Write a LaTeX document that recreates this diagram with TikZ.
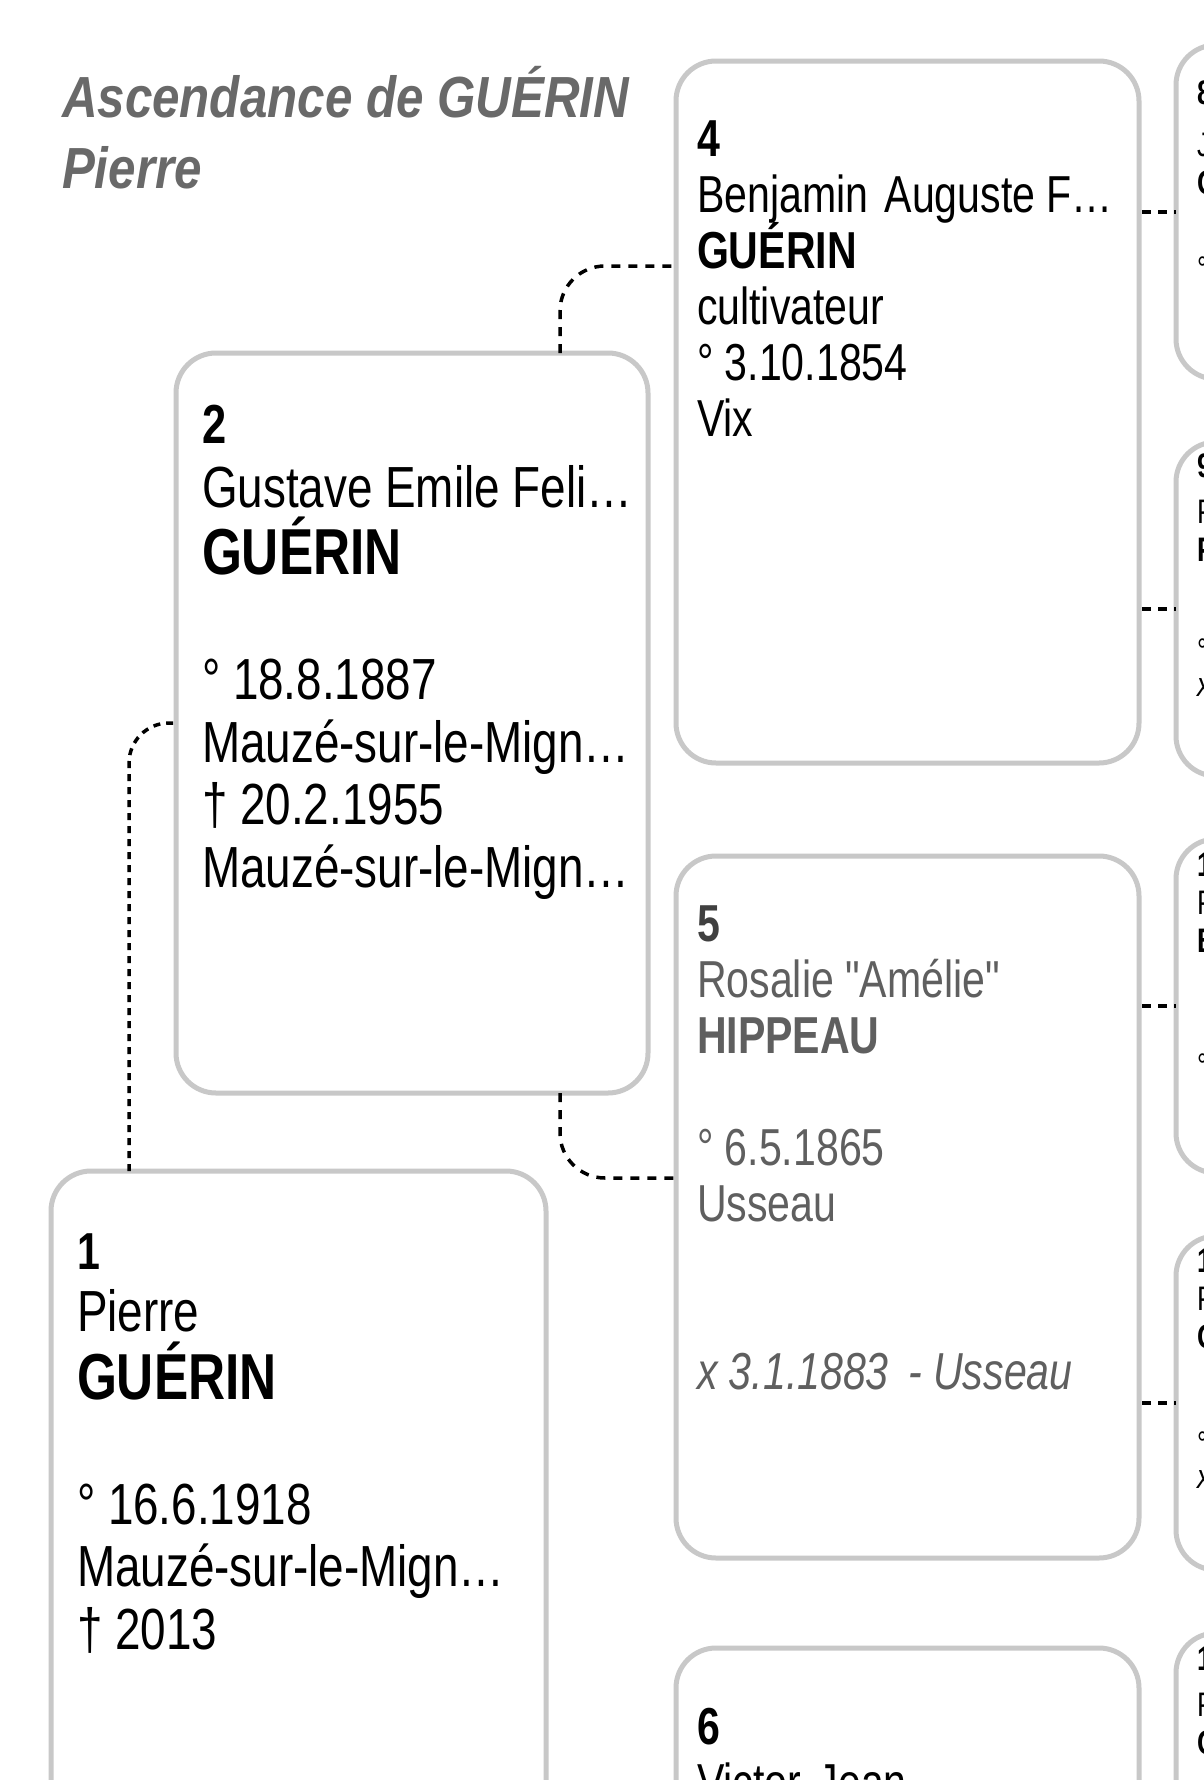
\documentclass[tikz,border=0pt]{standalone}
\usepackage{fontspec}
\setmainfont{Liberation Sans}[FakeStretch=0.79]
\newfontfamily\titlefont{Liberation Sans}[FakeStretch=0.85]
\newfontfamily\rawfont{Liberation Sans}[FakeStretch=0.79]
\definecolor{boxgray}{RGB}{200,200,200}
\definecolor{femgray}{RGB}{95,95,95}
\definecolor{titlegray}{RGB}{105,105,105}
\newcommand\linesat[2]{\vtop{\lineskiplimit=-1000pt\lineskip=0pt\baselineskip=#1pt\halign{##\hfil\cr#2\crcr}}}
\newcommand\fA{\fontsize{58}{62.5}\selectfont}
\newcommand\fB{\fontsize{52}{56}\selectfont}
\newcommand\fC{\fontsize{34}{38}\selectfont}
\newcommand\snA{\fontsize{65}{62.5}\selectfont\bfseries}
\newcommand\numA{\fontsize{55}{60}\selectfont\bfseries}
\newcommand\numB{\fontsize{52}{56}\selectfont\bfseries}
\newcommand\numC{\fontsize{34}{38}\selectfont\bfseries}
\tikzset{
  pbox/.style={draw=boxgray, line width=5pt, rounded corners=40pt, inner sep=0pt, outer sep=0pt, anchor=north west},
  txt/.style={inner sep=0pt, outer sep=0pt, anchor=base west, text=black},
  link/.style={draw=black, line width=3.5pt, dash pattern=on 9pt off 8pt, rounded corners=45pt},
  linkfine/.style={draw=black, line width=3.5pt, dash pattern=on 7pt off 6pt, rounded corners=40pt},
  stub/.style={draw=black, line width=3.5pt, dash pattern=on 9pt off 7pt, dash phase=13pt}
}
\begin{document}
\begin{tikzpicture}[x=1pt,y=-1pt]
\useasboundingbox (0,0) rectangle (1204,1780);
\fill[white] (0,0) rectangle (1204,1780);
\clip (0,0) rectangle (1204,1780);

% boxes
\node[pbox, minimum width=495pt, minimum height=740pt] (b1) at (51,1171) {};
\node[pbox, minimum width=472pt, minimum height=740pt] (b2) at (176,353) {};
\node[pbox, minimum width=463pt, minimum height=702pt] (b4) at (676,61) {};
\node[pbox, minimum width=463pt, minimum height=702pt] (b5) at (676,856) {};
\node[pbox, minimum width=463pt, minimum height=702pt] (b6) at (676,1648) {};
\node[pbox, minimum width=463pt, minimum height=334pt] (b8) at (1176,45) {};
\node[pbox, minimum width=463pt, minimum height=334pt] (b9) at (1176,442) {};
\node[pbox, minimum width=463pt, minimum height=334pt] (b10) at (1176,839) {};
\node[pbox, minimum width=463pt, minimum height=334pt] (b11) at (1176,1236) {};
\node[pbox, minimum width=463pt, minimum height=334pt] (b12) at (1176,1633) {};

% connectors
\draw[linkfine] ([xshift=-169.5pt]b1.north) |- (b2.west);
\draw[link] ([xshift=148pt]b2.north) |- ([yshift=-205pt]b4.north west);
\draw[link] ([xshift=148pt]b2.south) |- ([yshift=-322pt]b5.north west);
\draw[stub] (b4.east |- b8.west) -- (b8.west);
\draw[stub] (b4.east |- b9.west) -- (b9.west);
\draw[stub] (b5.east |- b10.west) -- (b10.west);
\draw[stub] (b5.east |- b11.west) -- (b11.west);

% title
\node[txt, text=titlegray, font=\titlefont\bfseries\itshape\fontsize{58}{71}\selectfont] (title) at (62,117)
  {\linesat{71}{Ascendance de GUÉRIN\cr Pierre}};

% texts
\node[txt, font=\fA] (t1) at (77,1269)
  {\linesat{62.5}{{\numB 1}\cr Pierre\cr\noalign{\kern5pt}{\snA GUÉRIN}\cr\cr ° 16.6.1918\cr Mauzé-sur-le-Mign…\cr † 2013}};
\node[txt, font=\fA] (t2) at (202,443)
  {\linesat{62.5}{{\numA 2}\cr\noalign{\kern2pt} Gustave Emile Feli…\cr\noalign{\kern4.5pt}{\snA GUÉRIN}\cr\cr ° 18.8.1887\cr Mauzé-sur-le-Mign…\cr † 20.2.1955\cr Mauzé-sur-le-Mign…}};
\node[txt, font=\fB] (t4) at (697,156)
  {\linesat{56}{{\numB 4}\cr Benjamin\hspace{5pt} Auguste F…\cr \bfseries GUÉRIN\cr cultivateur\cr ° 3.10.1854\cr Vix}};
\node[txt, font=\fB, text=femgray] (t5) at (697,941)
  {\linesat{56}{{\numB\color{black!75} 5}\cr {\rawfont Rosalie "Amélie"}\cr \bfseries HIPPEAU\cr\cr ° 6.5.1865\cr Usseau\cr\cr\cr \itshape x 3.1.1883\hspace{8pt} - Usseau}};
\node[txt, font=\fB] (t6) at (697,1744)
  {\linesat{56}{{\numB 6}\cr Victor\hspace{5pt} Jean}};

% right column (cut by the page edge)
\node[txt, font=\fC] (t8) at (1197,104)
  {\linesat{38}{{\numC 8}\cr\noalign{\kern14pt} J\cr \bfseries G\cr\cr\noalign{\kern10pt} °}};
\node[txt, font=\fC] (t9) at (1197,477)
  {\linesat{38}{{\numC 9}\cr\noalign{\kern8pt} P\cr \bfseries P\cr\cr\noalign{\kern25pt} °\cr\noalign{\kern-4pt} \itshape x}};
\node[txt, font=\fC] (t10) at (1197,876)
  {\linesat{38}{{\numC 1}\cr P\cr \bfseries B\cr\cr\noalign{\kern49pt} °}};
\node[txt, font=\fC] (t11) at (1197,1272)
  {\linesat{38}{{\numC 1}\cr P\cr \bfseries G\cr\cr\noalign{\kern31pt} °\cr\noalign{\kern-5pt} \itshape x}};
\node[txt, font=\fC] (t12) at (1197,1670)
  {\linesat{38}{{\numC 1}\cr\noalign{\kern8pt} P\cr \bfseries C}};
\end{tikzpicture}
\end{document}
